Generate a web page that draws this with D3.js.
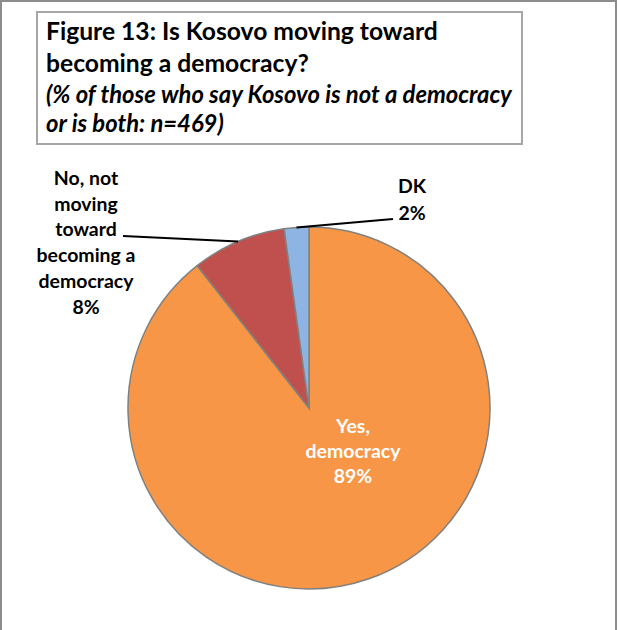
<!DOCTYPE html>
<html><head><meta charset="utf-8">
<script src="https://cdn.jsdelivr.net/npm/d3@7"></script>
<style>html,body{margin:0;padding:0;background:#fff;}svg{display:block;}</style>
</head><body>
<svg id="chart" width="618" height="630"></svg>
<script>
const categories = ["Yes, democracy", "No, not moving toward becoming a democracy", "DK"];
const values = [89.4, 8.4, 2.2];
const colors = ["#F79646", "#C0504D", "#8EB4E3"];
const titleLines = ["Figure 13: Is Kosovo moving toward", "becoming a democracy?"];
const subtitleLines = ["(% of those who say Kosovo is not a democracy", "or is both: n=469)"];
const labelLines = [["Yes,", "democracy"], ["No, not", "moving", "toward", "becoming a", "democracy"], ["DK"]];

const svg = d3.select("#chart");
const FONT = "Lato, 'Open Sans', sans-serif";

// outer frame
svg.append("rect").attr("x", 1).attr("y", 1).attr("width", 615).attr("height", 660)
  .attr("fill", "#fff").attr("stroke", "#8c8c8c").attr("stroke-width", 2);

// title box
svg.append("rect").attr("x", 37).attr("y", 12).attr("width", 485).attr("height", 132)
  .attr("fill", "#fff").attr("stroke", "#a6a6a6").attr("stroke-width", 2);

function fitSize(textSel, target, base) {
  const w = textSel.node().getComputedTextLength();
  return base * target / w;
}

const t1 = svg.append("text").attr("x", 46).attr("y", 40).attr("font-family", FONT)
  .attr("font-weight", "bold").attr("font-size", 22).attr("fill", "#000").text(titleLines[0]);
const ts = fitSize(t1, 392, 22);
t1.attr("font-size", ts);
svg.append("text").attr("x", 46).attr("y", 72).attr("font-family", FONT)
  .attr("font-weight", "bold").attr("font-size", ts).attr("fill", "#000").text(titleLines[1]);

const s1 = svg.append("text").attr("x", 46).attr("y", 103).attr("font-family", FONT)
  .attr("font-weight", "bold").attr("font-style", "italic").attr("font-size", 19).attr("fill", "#000").text(subtitleLines[0]);
const ss = fitSize(s1, 466, 19);
s1.attr("font-size", ss);
svg.append("text").attr("x", 46).attr("y", 132).attr("font-family", FONT)
  .attr("font-weight", "bold").attr("font-style", "italic").attr("font-size", ss).attr("fill", "#000").text(subtitleLines[1]);

// pie
const cx = 309, cy = 408, R = 181;
const pie = d3.pie().sort(null).value(d => d)(values);
const arc = d3.arc().innerRadius(0).outerRadius(R);
const edge = d3.arc().innerRadius(R).outerRadius(R);
const g = svg.append("g").attr("transform", `translate(${cx},${cy})`);
g.selectAll("path").data(pie).join("path")
  .attr("d", arc).attr("fill", (d, i) => colors[i])
  .attr("stroke", "#808080").attr("stroke-width", 1.5);

// measure label font size
const probe = svg.append("text").attr("font-family", FONT).attr("font-weight", "bold")
  .attr("font-size", 16).text("democracy");
const ls = fitSize(probe, 95, 16);
probe.remove();

// label placement (positions only)
const labelPos = [
  {x: 353, y: 433, anchor: "middle", color: "#fff", lead: null},
  {x: 86, y: 185, anchor: "middle", color: "#000", lead: [123, 236]},
  {x: 412, y: 193, anchor: "middle", color: "#000", lead: [393, 219]}
];
const lineH = 25.7;

pie.forEach((d, i) => {
  const p = labelPos[i];
  const lines = labelLines[i].concat([Math.round(values[i]) + "%"]);
  const t = svg.append("text").attr("font-family", FONT).attr("font-weight", "bold")
    .attr("font-size", ls).attr("fill", p.color).attr("text-anchor", p.anchor);
  lines.forEach((ln, k) => {
    t.append("tspan").attr("x", p.x).attr("y", p.y + k * (i === 0 ? 25 : (i === 2 ? 27 : lineH))).text(ln);
  });
  if (p.lead) {
    const c = edge.centroid(d);
    svg.append("line").attr("x1", p.lead[0]).attr("y1", p.lead[1])
      .attr("x2", cx + c[0]).attr("y2", cy + c[1])
      .attr("stroke", "#000").attr("stroke-width", 2);
  }
});
</script>
</body></html>
